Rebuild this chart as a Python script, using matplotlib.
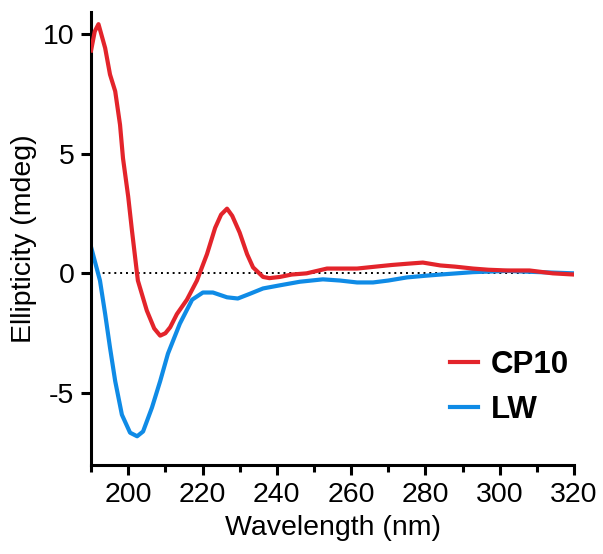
import matplotlib
matplotlib.use("Agg")
import matplotlib.pyplot as plt
from matplotlib.ticker import MultipleLocator

plt.rcParams['font.family'] = ['Liberation Sans', 'DejaVu Sans']
plt.rcParams['axes.unicode_minus'] = False

# CD spectra
cp10_wl = [190, 191, 192, 193.8, 195.1, 196.5, 197.8, 198.6, 200, 201, 202.6, 205,
           207, 208.6, 210, 211.3, 213.1, 215.8, 218.5, 221.2, 223.4, 225, 226.6,
           228, 230, 232, 233.6, 236.3, 238, 240.8, 244, 248, 253.5, 257, 261.6,
           267.8, 271, 275, 279.3, 284, 288, 292.8, 297, 301.9, 308, 314.3, 320]
cp10_mdeg = [9.3, 10.1, 10.4, 9.4, 8.3, 7.6, 6.2, 4.8, 3.2, 1.8, -0.3, -1.55,
             -2.3, -2.6, -2.5, -2.25, -1.7, -1.1, -0.3, 0.8, 1.9, 2.45, 2.7,
             2.4, 1.7, 0.8, 0.25, -0.15, -0.2, -0.15, -0.05, 0.0, 0.2, 0.2, 0.2,
             0.3, 0.35, 0.4, 0.45, 0.33, 0.28, 0.2, 0.15, 0.12, 0.12, 0.0, -0.05]

lw_wl = [190, 192.4, 193.8, 195.1, 196.5, 198.3, 200.5, 202.4, 204, 206.4, 208.6,
         210.7, 213.9, 217.2, 220.1, 222.8, 226.6, 229.5, 232.8, 236.3, 240.8,
         246.2, 252.4, 257, 261.6, 265.9, 270, 275, 280, 284, 292.8, 301.9,
         310.8, 320]
lw_mdeg = [1.1, -0.3, -1.7, -3.1, -4.5, -5.9, -6.65, -6.8, -6.6, -5.6, -4.5,
           -3.35, -2.1, -1.1, -0.8, -0.8, -1.0, -1.05, -0.85, -0.63, -0.5,
           -0.35, -0.25, -0.3, -0.38, -0.38, -0.3, -0.17, -0.1, -0.05, 0.05, 0.1,
           0.05, 0.0]

fig = plt.figure(figsize=(6.03, 5.54), dpi=100)
ax = fig.add_axes([0.151, 0.1606, 0.801, 0.8174])

ax.axhline(0, color='black', linestyle=(0, (1, 2)), linewidth=1.4, zorder=1)
ax.plot(cp10_wl, cp10_mdeg, color='#E3242B', linewidth=3, label='CP10', zorder=3)
ax.plot(lw_wl, lw_mdeg, color='#0F8BE6', linewidth=3, label='LW', zorder=2)

ax.set_xlim(190, 320)
ax.set_ylim(-8, 10.9)
ax.xaxis.set_minor_locator(MultipleLocator(10))
ax.set_xticks([200, 220, 240, 260, 280, 300, 320])
ax.set_yticks([-5, 0, 5, 10])

for side in ['top', 'right']:
    ax.spines[side].set_visible(False)
for side in ['left', 'bottom']:
    ax.spines[side].set_linewidth(2.2)

ax.tick_params(axis='both', which='major', length=7, width=2.2, labelsize=20.5, pad=5)
ax.tick_params(axis='x', which='minor', length=5, width=2.2)

ax.set_xlabel('Wavelength (nm)', fontsize=20.5, labelpad=5)
ax.set_ylabel('Ellipticity (mdeg)', fontsize=20.5, labelpad=4)

leg = ax.legend(loc='center left', bbox_to_anchor=(0.685, 0.171), frameon=False,
                prop={'weight': 'bold', 'size': 22.5}, handlelength=0.9,
                handletextpad=0.4, labelspacing=0.5)

fig.savefig('out.png', dpi=100)
